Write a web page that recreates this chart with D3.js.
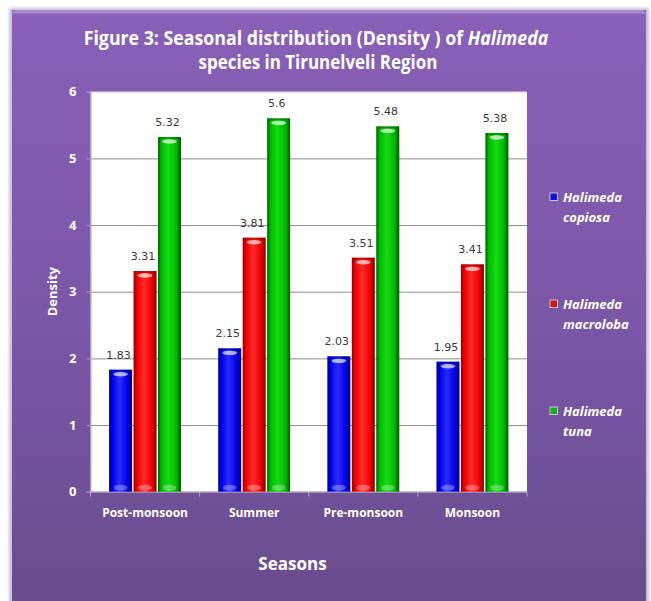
<!DOCTYPE html>
<html>
<head>
<meta charset="utf-8">
<script src="https://cdn.jsdelivr.net/npm/d3@7"></script>
<style>
  html, body { margin: 0; padding: 0; background: #ffffff; }
  svg { display: block; }
</style>
</head>
<body>
<svg id="chart" width="651" height="601"></svg>
<script>
// Seasonal density of three Halimeda species
const categories = ["Post-monsoon", "Summer", "Pre-monsoon", "Monsoon"];
const seriesNames = ["Halimeda copiosa", "Halimeda macroloba", "Halimeda tuna"];
const copiosa = [1.83, 2.15, 2.03, 1.95];
const macroloba = [3.31, 3.81, 3.51, 3.41];
const tuna = [5.32, 5.6, 5.48, 5.38];
const yTicks = [0, 1, 2, 3, 4, 5, 6];

const seriesValues = [copiosa, macroloba, tuna];
const palette = [
  { dark: "#00007a", mid: "#0000e6", light: "#2b2bff", key: "#1010d0" },
  { dark: "#8a0000", mid: "#ee0000", light: "#ff2a2a", key: "#e01010" },
  { dark: "#005800", mid: "#00b800", light: "#14dc14", key: "#10b010" }
];
const labelFont = "'Open Sans', Lato, sans-serif";

const svg = d3.select("#chart");
const defs = svg.append("defs");

// Panel background gradient
const bg = defs.append("linearGradient").attr("id", "panelGrad")
  .attr("x1", 0).attr("y1", 0).attr("x2", 0).attr("y2", 1);
bg.append("stop").attr("offset", "0%").attr("stop-color", "#8a60b8");
bg.append("stop").attr("offset", "55%").attr("stop-color", "#7a56a6");
bg.append("stop").attr("offset", "100%").attr("stop-color", "#694c8c");

// Cylinder-like shading per series
palette.forEach((p, i) => {
  const g = defs.append("linearGradient").attr("id", "barGrad" + i)
    .attr("x1", 0).attr("y1", 0).attr("x2", 1).attr("y2", 0);
  g.append("stop").attr("offset", "0%").attr("stop-color", p.dark);
  g.append("stop").attr("offset", "14%").attr("stop-color", p.mid);
  g.append("stop").attr("offset", "45%").attr("stop-color", p.light);
  g.append("stop").attr("offset", "80%").attr("stop-color", p.mid);
  g.append("stop").attr("offset", "100%").attr("stop-color", p.dark);
});

const blur = defs.append("filter").attr("id", "soft").attr("x", "-10%").attr("y", "-10%")
  .attr("width", "120%").attr("height", "120%");
blur.append("feGaussianBlur").attr("stdDeviation", 1.5);

// Outer panel with shadow and light top edge
svg.append("rect").attr("x", 9).attr("y", 8).attr("width", 640).attr("height", 600)
  .attr("fill", "#c9bfd6").attr("filter", "url(#soft)");
svg.append("rect").attr("x", 12).attr("y", 10).attr("width", 634).attr("height", 600)
  .attr("fill", "url(#panelGrad)");
svg.append("path")
  .attr("d", "M12,13 L15,10 L643,10 L646,13 Z")
  .attr("fill", "#a98bd2");
svg.append("rect").attr("x", 12).attr("y", 13).attr("width", 634).attr("height", 1.5)
  .attr("fill", "#9a78c6").attr("opacity", 0.7);

// Plot frame
const plot = { left: 90.5, right: 527, top: 91.7, bottom: 491.7 };

const x = d3.scaleBand().domain(categories).range([plot.left, plot.right])
  .paddingInner(0).paddingOuter(0);
const xs = d3.scaleBand().domain(d3.range(seriesNames.length)).range([0, x.bandwidth()])
  .paddingInner(0.06).paddingOuter(0.76);
const y = d3.scaleLinear().domain([0, 6]).range([plot.bottom, plot.top]);

svg.append("rect")
  .attr("x", plot.left).attr("y", plot.top)
  .attr("width", plot.right - plot.left).attr("height", plot.bottom - plot.top)
  .attr("fill", "#ffffff");

// Horizontal gridlines
svg.append("g").selectAll("line")
  .data(yTicks.filter(t => t > 0))
  .join("line")
  .attr("x1", plot.left).attr("x2", plot.right)
  .attr("y1", d => y(d) + 0.5).attr("y2", d => y(d) + 0.5)
  .attr("stroke", d => d === 6 ? "#d6d6d6" : "#8e8e8e")
  .attr("stroke-width", 1);

// Y axis
const yAxis = svg.append("g")
  .attr("transform", `translate(${plot.left},0)`)
  .call(d3.axisLeft(y).tickValues(yTicks).tickFormat(d3.format("d")).tickSize(4).tickPadding(10));
yAxis.select(".domain").attr("stroke", "#a99cbc");
yAxis.selectAll(".tick line").attr("stroke", "#a99cbc");
yAxis.selectAll(".tick text")
  .attr("fill", "#ffffff")
  .style("font-family", labelFont)
  .style("font-weight", "bold")
  .style("font-size", "13px");

// X axis with boundary ticks between seasons
const xAxisG = svg.append("g").attr("transform", `translate(0,${plot.bottom})`);
xAxisG.append("line")
  .attr("x1", plot.left).attr("x2", plot.right).attr("y1", 0.5).attr("y2", 0.5)
  .attr("stroke", "#b3a8c4");
const bounds = categories.map(c => x(c)).concat([x(categories[categories.length - 1]) + x.bandwidth()]);
xAxisG.selectAll("line.bound").data(bounds).join("line").attr("class", "bound")
  .attr("x1", d => d).attr("x2", d => d).attr("y1", 0).attr("y2", 5)
  .attr("stroke", "#b3a8c4");
xAxisG.selectAll("text").data(categories).join("text")
  .attr("x", d => x(d) + x.bandwidth() / 2)
  .attr("y", 25)
  .attr("text-anchor", "middle")
  .attr("fill", "#ffffff")
  .style("font-family", labelFont)
  .style("font-weight", "bold")
  .style("font-size", "12px")
  .text(d => d);

// Bars
const bars = [];
categories.forEach((c, ci) => {
  seriesValues.forEach((vals, si) => {
    bars.push({ cat: c, s: si, v: vals[ci] });
  });
});

const barG = svg.append("g");
const bw = xs.bandwidth();
const bar = barG.selectAll("g.bar").data(bars).join("g").attr("class", "bar")
  .attr("transform", d => `translate(${x(d.cat) + xs(d.s)},0)`);

bar.append("rect")
  .attr("x", 0).attr("y", d => y(d.v))
  .attr("width", bw).attr("height", d => y(0) - y(d.v))
  .attr("fill", d => `url(#barGrad${d.s})`);
// top cap shading
bar.append("rect")
  .attr("x", 0.5).attr("y", d => y(d.v))
  .attr("width", bw - 1).attr("height", 2)
  .attr("fill", d => palette[d.s].dark).attr("opacity", 0.5);
// top highlight
bar.append("ellipse")
  .attr("cx", bw / 2).attr("cy", d => y(d.v) + 4.5)
  .attr("rx", bw * 0.32).attr("ry", 2.2)
  .attr("fill", "#ffffff").attr("opacity", 0.65);
// base reflection
bar.append("ellipse")
  .attr("cx", bw / 2).attr("cy", y(0) - 4)
  .attr("rx", bw * 0.3).attr("ry", 3)
  .attr("fill", "#ffffff").attr("opacity", 0.3);

// Value labels
barG.selectAll("text.val").data(bars).join("text").attr("class", "val")
  .attr("x", d => x(d.cat) + xs(d.s) + bw / 2 - 2)
  .attr("y", d => y(d.v) - 11)
  .attr("text-anchor", "middle")
  .attr("fill", "#3a3a3a")
  .style("font-family", "'DejaVu Sans', Verdana, sans-serif")
  .style("font-size", "11px")
  .text(d => d.v);

// Axis titles
svg.append("text")
  .attr("transform", `translate(57,${(plot.top + plot.bottom) / 2}) rotate(-90)`)
  .attr("text-anchor", "middle")
  .attr("fill", "#ffffff")
  .style("font-family", labelFont)
  .style("font-weight", "bold")
  .style("font-size", "13px")
  .text("Density");

svg.append("text")
  .attr("x", 292.5).attr("y", 570)
  .attr("text-anchor", "middle")
  .attr("fill", "#ffffff")
  .style("font-family", labelFont)
  .style("font-weight", "bold")
  .style("font-size", "17px")
  .text("Seasons");

// Title, two lines, genus name in italics
const titleG = svg.append("g")
  .style("font-family", labelFont)
  .style("font-weight", "bold")
  .style("font-size", "19px")
  .attr("fill", "#ffffff");
const t1 = titleG.append("text").attr("x", 316).attr("y", 45).attr("text-anchor", "middle");
t1.append("tspan").text("Figure 3: Seasonal distribution (Density ) of ");
t1.append("tspan").style("font-style", "italic").text("Halimeda");
const t2 = titleG.append("text").attr("x", 318).attr("y", 69).attr("text-anchor", "middle")
  .text("species in Tirunelveli Region");

// Narrow the title lines to their set widths
function fitWidth(sel, target, cx) {
  const w = sel.node().getComputedTextLength();
  const k = target / w;
  sel.attr("transform", `translate(${cx},0) scale(${k},1) translate(${-cx},0)`);
}
fitWidth(t1, 465, 316);
fitWidth(t2, 239, 318);

// Legend
const legend = svg.append("g").attr("transform", "translate(550,0)");
const legendRows = [197, 304, 411];
const legItem = legend.selectAll("g").data(seriesNames).join("g")
  .attr("transform", (d, i) => `translate(0,${legendRows[i]})`);
legItem.append("rect")
  .attr("x", 0).attr("y", -4).attr("width", 7.5).attr("height", 7.5)
  .attr("fill", (d, i) => palette[i].key)
  .attr("stroke", "#c8c0dc").attr("stroke-width", 1);
const legText = legItem.append("text")
  .attr("fill", "#ffffff")
  .style("font-family", labelFont)
  .style("font-weight", "bold")
  .style("font-style", "italic")
  .style("font-size", "13px");
legText.append("tspan").attr("x", 13).attr("y", 5).text(d => d.split(" ")[0]);
legText.append("tspan").attr("x", 13).attr("y", 25).text(d => d.split(" ")[1]);
</script>
</body>
</html>
